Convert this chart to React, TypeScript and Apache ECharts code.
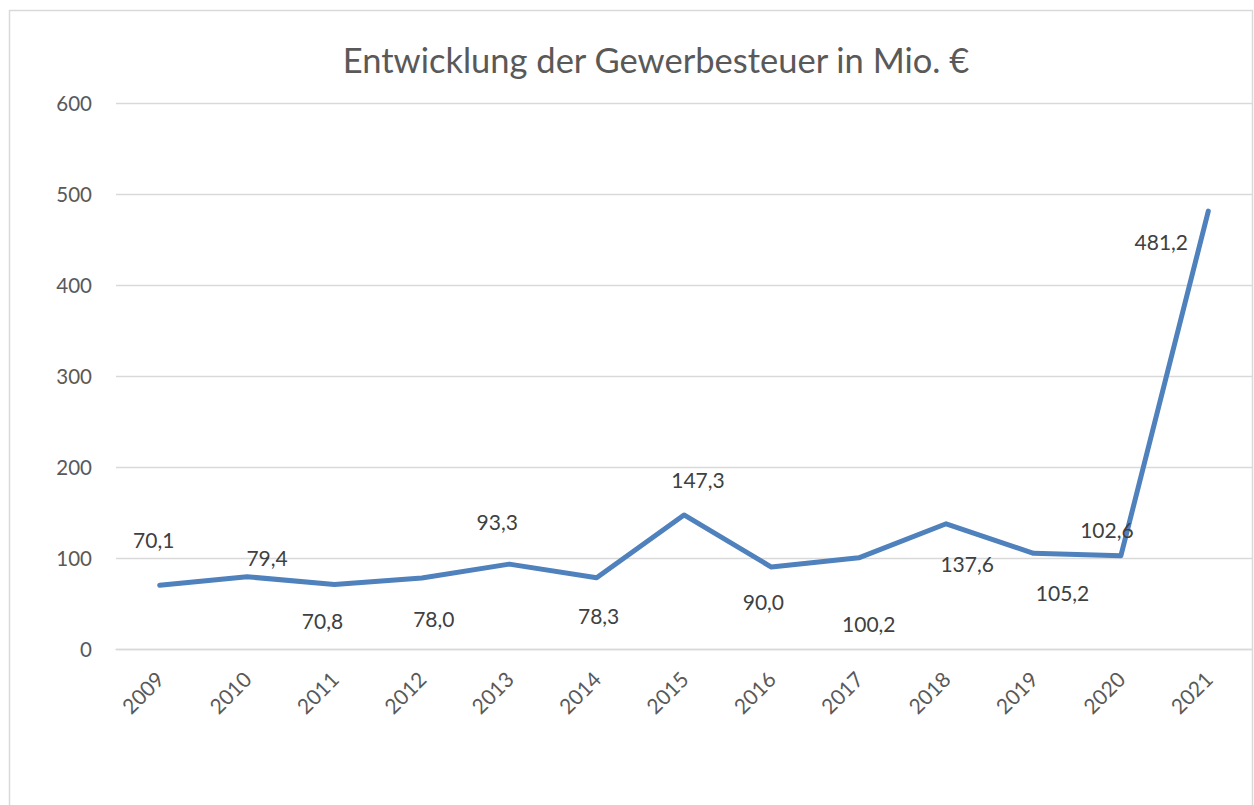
import React, { useEffect, useRef } from "react";
import * as echarts from "echarts";

const years = ["2009", "2010", "2011", "2012", "2013", "2014", "2015", "2016", "2017", "2018", "2019", "2020", "2021"];
const values = [70.1, 79.4, 70.8, 78.0, 93.3, 78.3, 147.3, 90.0, 100.2, 137.6, 105.2, 102.6, 481.2];
const labelOffsets: [number, number][] = [
  [-6, -46], [20, -19], [-12, 36], [12, 40], [-12, -43], [2, 38], [14, -35],
  [-8, 34], [10, 66], [21, 40], [29, 39], [-14, -26], [-47, 30],
];
const titleText = "Entwicklung der Gewerbesteuer in Mio. €";

const FONT = "Lato, 'Noto Sans', sans-serif";

export default function App() {
  const ref = useRef<HTMLDivElement>(null);
  useEffect(() => {
    if (!ref.current) return;
    const chart = echarts.init(ref.current, undefined, { renderer: "svg" });
    chart.setOption({
      animation: false,
      backgroundColor: "#ffffff",
      textStyle: { fontFamily: FONT },
      graphic: [
        {
          type: "rect",
          shape: { x: 9.5, y: 10.5, width: 1243, height: 820 },
          style: { fill: "none", stroke: "#d9d9d9", lineWidth: 1.5 },
          silent: true,
          z: -10,
        },
        {
          type: "text",
          x: 656,
          y: 59,
          style: {
            text: titleText,
            fill: "#595959",
            font: `34.5px ${FONT}`,
            textAlign: "center",
            textVerticalAlign: "middle",
          },
        },
      ],
      grid: { left: 116, right: 2, top: 103, bottom: 156, containLabel: false },
      xAxis: {
        type: "category",
        data: years,
        boundaryGap: true,
        axisLine: { show: true, lineStyle: { color: "#d9d9d9", width: 1.3 } },
        axisTick: { show: false },
        axisLabel: {
          rotate: 45,
          margin: 26,
          color: "#595959",
          fontSize: 21,
          fontFamily: FONT,
        },
      },
      yAxis: {
        type: "value",
        min: 0,
        max: 600,
        interval: 100,
        axisLine: { show: false },
        axisTick: { show: false },
        splitLine: { lineStyle: { color: "#d9d9d9", width: 1.3 } },
        axisLabel: { margin: 24, color: "#595959", fontSize: 20.5, fontFamily: FONT },
      },
      series: [
        {
          type: "line",
          data: values.map((v, i) => ({ value: v, label: { offset: labelOffsets[i] } })),
          symbol: "circle",
          symbolSize: 1,
          showSymbol: true,
          itemStyle: { color: "#4F81BD" },
          lineStyle: { color: "#4F81BD", width: 5, cap: "round", join: "round" },
          label: {
            show: true,
            position: "inside",
            color: "#404040",
            fontSize: 21,
            fontFamily: FONT,
            formatter: (p: any) => Number(p.value).toFixed(1).replace(".", ","),
          },
        },
      ],
    });
    return () => chart.dispose();
  }, []);
  return (
    <div
      ref={ref}
      style={{ position: "absolute", left: 0, top: 0, width: 1254, height: 805 }}
    />
  );
}
